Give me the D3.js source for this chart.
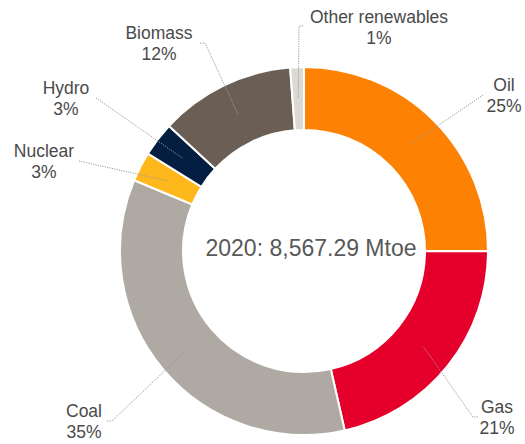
<!DOCTYPE html>
<meta charset="utf-8">
<head>
  <style>
    body { margin:0; background:#fff; }
    text { font-family: "Liberation Sans", Arial, sans-serif; }
  </style>
  <script src="https://d3js.org/d3.v7.min.js"></script>
</head>
<body>
<svg id="chart" width="525" height="444"></svg>
<script>
  // energy mix 2020, share of total (percent)
  var categories = ["Oil", "Gas", "Coal", "Nuclear", "Hydro", "Biomass", "Other renewables"]
  var shares     = [25.0, 21.4, 34.8, 2.6, 3.0, 11.9, 1.2]
  var totalLabel = "2020: 8,567.29 Mtoe"

  var colors = ["#fd8204", "#e4002b", "#afa9a3", "#ffb81c", "#041e42", "#6b5f55", "#dddad5"]

  // where each label sits and where its leader line begins (layout only)
  var labelLayout = [
    { tx: 504, ty: 91,  lx: 483, ly: 95,  tick: 0 },
    { tx: 497, ty: 413, lx: 473, ly: 417, tick: 5 },
    { tx: 84,  ty: 417, lx: 112, ly: 421, tick: -5 },
    { tx: 44,  ty: 157, lx: 79,  ly: 161, tick: 0 },
    { tx: 66,  ty: 94,  lx: 96,  ly: 98,  tick: 0 },
    { tx: 159, ty: 39,  lx: 205, ly: 43,  tick: -5 },
    { tx: 379, ty: 23,  lx: 299, ly: 26,  tick: 4 }
  ]

  var cx = 304, cy = 251
  var outerR = 184, innerR = 121

  var svg = d3.select('#chart')
  var g = svg.append('g').attr('transform', 'translate(' + cx + ',' + cy + ')')

  var data = categories.map(function (c, i) { return { name: c, value: shares[i], i: i } })
  var total = d3.sum(shares)

  var pie = d3.pie().sort(null).value(function (d) { return d.value })
  var arc = d3.arc().innerRadius(innerR).outerRadius(outerR)
  var arcs = pie(data)

  g.selectAll('path.slice')
    .data(arcs)
    .enter().append('path')
      .attr('class', 'slice')
      .attr('d', arc)
      .attr('fill', function (d) { return colors[d.data.i] })
      .attr('stroke', '#fff')
      .attr('stroke-width', 2)

  // leader lines: from label to arc centroid
  g.selectAll('path.leader')
    .data(arcs)
    .enter().append('path')
      .attr('class', 'leader')
      .attr('fill', 'none')
      .attr('stroke', '#9a9a9a')
      .attr('stroke-width', 1)
      .attr('stroke-dasharray', '1.2,1.2')
      .attr('d', function (d) {
        var L = labelLayout[d.data.i]
        var c = arc.centroid(d)
        var p = d3.path()
        var sx = L.lx - cx, sy = L.ly - cy
        if (L.tick) {
          p.moveTo(sx + L.tick, sy)
          p.lineTo(sx, sy)
        } else {
          p.moveTo(sx, sy)
        }
        p.lineTo(c[0], c[1])
        return p.toString()
      })

  var labels = svg.append('g').selectAll('text')
    .data(data)
    .enter().append('text')
      .attr('text-anchor', 'middle')
      .attr('fill', '#4a4a4a')
      .attr('font-size', 17.5)
      .attr('x', function (d) { return labelLayout[d.i].tx })
      .attr('y', function (d) { return labelLayout[d.i].ty })

  labels.append('tspan')
    .attr('x', function (d) { return labelLayout[d.i].tx })
    .text(function (d) { return d.name })
  labels.append('tspan')
    .attr('x', function (d) { return labelLayout[d.i].tx })
    .attr('dy', 20.5)
    .text(function (d) { return Math.round(d.value / total * 100) + '%' })

  svg.append('text')
    .attr('x', 311)
    .attr('y', 256)
    .attr('text-anchor', 'middle')
    .attr('fill', '#595959')
    .attr('font-size', 23)
    .text(totalLabel)
</script>
</body>
